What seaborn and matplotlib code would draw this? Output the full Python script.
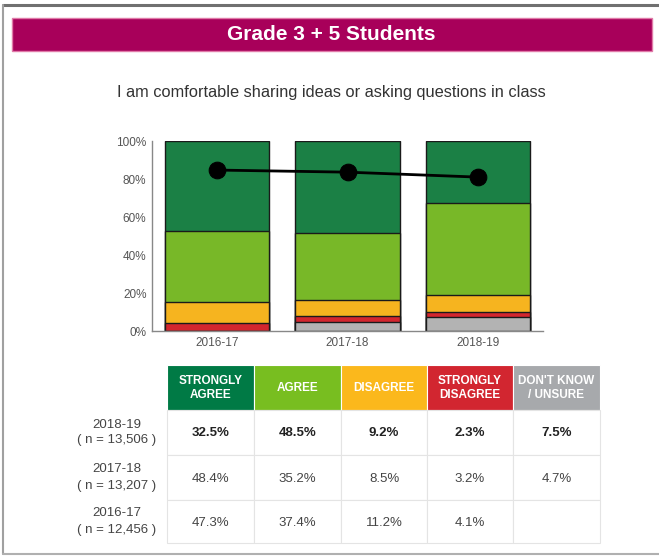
import numpy as np
import pandas as pd
import seaborn as sns
import matplotlib.pyplot as plt
from matplotlib.patches import Rectangle

# Data
years = ['2016-17', '2017-18', '2018-19']
strongly_agree = [47.3, 48.4, 32.5]
agree = [37.4, 35.2, 48.5]
disagree = [11.2, 8.5, 9.2]
strongly_disagree = [4.1, 3.2, 2.3]
unsure = [0.0, 4.7, 7.5]
total_agree = [84.7, 83.6, 81.0]

categories = ['STRONGLY\nAGREE', 'AGREE', 'DISAGREE', 'STRONGLY\nDISAGREE', "DON'T KNOW\n/ UNSURE"]
row_years = ['2018-19', '2017-18', '2016-17']
row_n = ['( n = 13,506 )', '( n = 13,207 )', '( n = 12,456 )']
table_values = [
    ['32.5%', '48.5%', '9.2%', '2.3%', '7.5%'],
    ['48.4%', '35.2%', '8.5%', '3.2%', '4.7%'],
    ['47.3%', '37.4%', '11.2%', '4.1%', ''],
]

bar_colors = ['#1b8045', '#78b828', '#f6b41f', '#d3262e', '#b3b3b3']
head_colors = ['#007a45', '#78be20', '#fbb81c', '#d22630', '#a7a9ac']

sns.set_theme(style='white')
plt.rcParams['font.family'] = ['Liberation Sans', 'DejaVu Sans']

W, H = 659, 556
fig = plt.figure(figsize=(W / 100, H / 100), dpi=100)

# overlay axes in pixel coordinates for frame, banner and table
deco = fig.add_axes([0, 0, 1, 1])
deco.set_xlim(0, W)
deco.set_ylim(H, 0)
deco.axis('off')

# outer frame
deco.plot([3, 659], [5, 5], color='#707070', lw=2.2)
deco.plot([3, 3], [5, 554], color='#a0a0a0', lw=1.5)
deco.plot([3, 659], [554, 554], color='#b0b0b0', lw=1.5)

# banner
deco.add_patch(Rectangle((12, 18), 640, 33, facecolor='#a8005a', edgecolor='#e07aa8', lw=1))
deco.text(331, 35, 'Grade 3 + 5 Students', color='white', fontsize=15, fontweight='bold',
          ha='center', va='center')
deco.text(331, 93, 'I am comfortable sharing ideas or asking questions in class', color='#333333',
          fontsize=11.8, ha='center', va='center')

# table
col_edges = [167, 254, 341, 427, 513, 600]
row_edges = [410, 455, 500, 543]
for i, (lab, c) in enumerate(zip(categories, head_colors)):
    deco.add_patch(Rectangle((col_edges[i], 365), col_edges[i + 1] - col_edges[i], 45,
                             facecolor=c, edgecolor='white', lw=0.8))
    deco.text((col_edges[i] + col_edges[i + 1]) / 2, 388, lab, color='white', fontsize=8.5,
              fontweight='bold', ha='center', va='center', linespacing=1.15)
for r in range(3):
    y0, y1 = row_edges[r], row_edges[r + 1]
    yc = (y0 + y1) / 2
    for i in range(5):
        deco.add_patch(Rectangle((col_edges[i], y0), col_edges[i + 1] - col_edges[i], y1 - y0,
                                 facecolor='white', edgecolor='#e4e4e4', lw=0.8))
        deco.text((col_edges[i] + col_edges[i + 1]) / 2, yc + 1, table_values[r][i],
                  color='#222222' if r == 0 else '#444444', fontsize=9.5,
                  fontweight='bold' if r == 0 else 'normal', ha='center', va='center')
    deco.text(117, yc - 8, row_years[r], color='#444444', fontsize=9.5, ha='center', va='center')
    deco.text(117, yc + 8, row_n[r], color='#444444', fontsize=9.5, ha='center', va='center')

# chart axes
ax = fig.add_axes([152 / W, (H - 331) / H, 391 / W, 190 / H])
df = pd.DataFrame({'year': years, 'sa': strongly_agree, 'a': agree, 'd': disagree,
                   'sd': strongly_disagree, 'u': unsure})
# cumulative stacks, drawn tallest first so the shorter ones sit on top
stack_cols = ['u', 'sd', 'd', 'a', 'sa']
cum = df[stack_cols].cumsum(axis=1)
for col, color in zip(stack_cols[::-1], bar_colors):
    sns.barplot(x=df['year'], y=cum[col], color=color, ax=ax, width=0.8,
                edgecolor='#1a1a1a', linewidth=1, saturation=1)

sns.lineplot(x=np.arange(3), y=total_agree, ax=ax, color='black', lw=2, marker='o',
             markersize=12, markeredgecolor='black')

ax.set_xlim(-0.5, 2.5)
ax.set_ylim(0, 100)
ax.set_yticks([0, 20, 40, 60, 80, 100])
ax.set_yticklabels(['0%', '20%', '40%', '60%', '80%', '100%'])
ax.set_xlabel('')
ax.set_ylabel('')
ax.tick_params(axis='both', labelsize=8.5, colors='#555555', length=0, pad=4)
for s in ['top', 'right']:
    ax.spines[s].set_visible(False)
for s in ['left', 'bottom']:
    ax.spines[s].set_color('#888888')
    ax.spines[s].set_linewidth(1)
ax.patch.set_alpha(0)

fig.savefig('out.png', dpi=100)
